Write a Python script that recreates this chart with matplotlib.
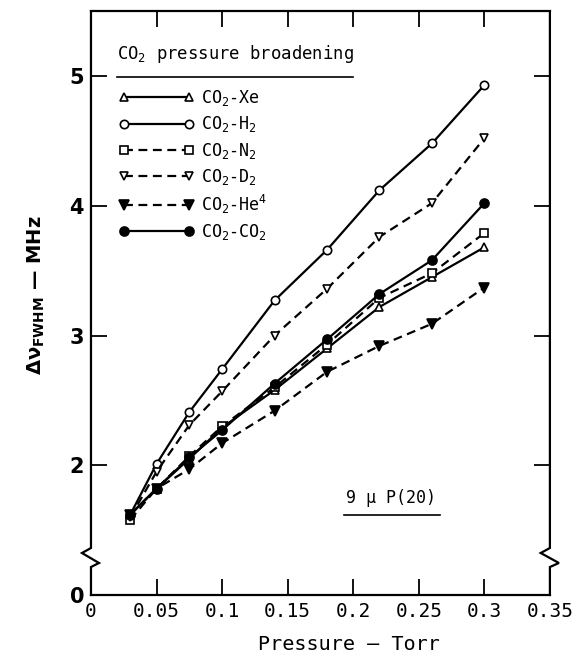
"""
Ensanchamiento por presión del CO2 (9 µ P(20)): anchura FWHM frente a presión
para distintos gases colisionadores. Eje Y con corte entre 0 y 2 MHz.
"""
import matplotlib
matplotlib.use("Agg")
import matplotlib.pyplot as plt

PRESION = [0.03, 0.05, 0.075, 0.1, 0.14, 0.18, 0.22, 0.26, 0.3]

ANCHO_XE = [1.62, 1.82, 2.05, 2.29, 2.58, 2.90, 3.22, 3.45, 3.68]
ANCHO_H2 = [1.62, 2.01, 2.41, 2.74, 3.27, 3.66, 4.12, 4.48, 4.93]
ANCHO_N2 = [1.58, 1.82, 2.07, 2.30, 2.60, 2.93, 3.29, 3.48, 3.79]
ANCHO_D2 = [1.60, 1.95, 2.31, 2.57, 3.00, 3.36, 3.76, 4.02, 4.52]
ANCHO_HE = [1.62, 1.82, 1.97, 2.17, 2.42, 2.72, 2.92, 3.09, 3.37]
ANCHO_CO2 = [1.62, 1.82, 2.06, 2.27, 2.63, 2.97, 3.32, 3.58, 4.02]

ETIQUETAS = ["CO$_2$-Xe", "CO$_2$-H$_2$", "CO$_2$-N$_2$",
             "CO$_2$-D$_2$", "CO$_2$-He$^4$", "CO$_2$-CO$_2$"]

X_TICKS = [0, 0.05, 0.1, 0.15, 0.2, 0.25, 0.3, 0.35]
X_TICK_LABELS = ["0", "0.05", "0.1", "0.15", "0.2", "0.25", "0.3", "0.35"]
Y_TICK_VALORES = [0, 2, 3, 4, 5]
Y_TICK_LABELS = ["0", "2", "3", "4", "5"]

MONO = "DejaVu Sans Mono"
plt.rcParams["mathtext.fontset"] = "custom"
plt.rcParams["mathtext.rm"] = MONO
plt.rcParams["mathtext.it"] = MONO
plt.rcParams["mathtext.bf"] = "DejaVu Sans:bold"


def a_pantalla(v):
    """Eje cortado: 0 se queda en 0, y >= 1.5 se desplaza una unidad."""
    return 0.0 if v == 0 else v - 1.0


def main():
    fig = plt.figure(figsize=(5.78, 6.68), dpi=100)
    ax = fig.add_axes([0.1574, 0.1093, 0.794, 0.874])

    negro = "black"
    solido = "-"
    guion = (0, (4, 2.5))
    estilos = [
        (ANCHO_XE, "^", "white", solido, 6),
        (ANCHO_H2, "o", "white", solido, 6),
        (ANCHO_N2, "s", "white", guion, 5.5),
        (ANCHO_D2, "v", "white", guion, 6),
        (ANCHO_HE, "v", negro, guion, 6.5),
        (ANCHO_CO2, "o", negro, solido, 6.5),
    ]
    for (ys, mk, relleno, ls, ms), etiqueta in zip(estilos, ETIQUETAS):
        ax.plot(PRESION, [a_pantalla(v) for v in ys], color=negro, lw=1.6,
                linestyle=ls, marker=mk, ms=ms, mfc=relleno, mec=negro,
                mew=1.2, label=etiqueta)

    ax.set_xlim(0, 0.35)
    ax.set_ylim(0, 4.5)
    ax.set_xticks(X_TICKS)
    ax.set_xticklabels(X_TICK_LABELS, family=MONO, fontsize=14)
    ax.set_yticks([a_pantalla(v) for v in Y_TICK_VALORES])
    ax.set_yticklabels(Y_TICK_LABELS, fontsize=15, fontweight="bold")
    ax.tick_params(direction="in", length=11.5, width=1.3, top=True, right=True,
                   pad=5)

    # ejes izquierdo y derecho dibujados a mano con el zigzag del corte
    ax.spines["left"].set_visible(False)
    ax.spines["right"].set_visible(False)
    for s in ("top", "bottom"):
        ax.spines[s].set_linewidth(1.6)
    izq_x = [0, 0, -0.0196, 0.0174, 0, 0]
    der_x = [1, 1, 0.980, 1.0196, 1, 1]
    corte_y = [1, 0.0805, 0.0719, 0.0548, 0.0479, 0]
    for xs in (izq_x, der_x):
        ax.plot(xs, corte_y, color=negro, lw=1.6, transform=ax.transAxes,
                clip_on=False, solid_joinstyle="miter")

    # leyenda con título subrayado
    ax.text(0.057, 0.926, "CO$_2$ pressure broadening", transform=ax.transAxes,
            family=MONO, fontsize=12.4, ha="left", va="center")
    ax.plot([0.057, 0.57], [0.888, 0.888], color=negro, lw=1.2,
            transform=ax.transAxes)
    ax.legend(loc="upper left", bbox_to_anchor=(0.062, 0.868), frameon=False,
              numpoints=2, handlelength=4.45, handletextpad=0.45,
              labelspacing=0.37, borderpad=0, borderaxespad=0,
              prop={"family": MONO, "size": 12})

    ax.text(0.229, a_pantalla(1.75), "9 µ P(20)", family=MONO, fontsize=12,
            ha="center", va="center")
    ax.plot([0.193, 0.266], [a_pantalla(1.62)] * 2, color=negro, lw=1.2)

    fig.text(349 / 578, 1 - 645 / 668, "Pressure — Torr", family=MONO,
             fontsize=14.5, ha="center", va="center")
    fig.text(36 / 578, 1 - 295 / 668, "Δν$_\\mathbf{FWHM}$ — MHz",
             fontsize=14, fontweight="bold", rotation=90,
             ha="center", va="center")

    fig.savefig("out.png", dpi=100)
    plt.close(fig)


if __name__ == "__main__":
    main()
